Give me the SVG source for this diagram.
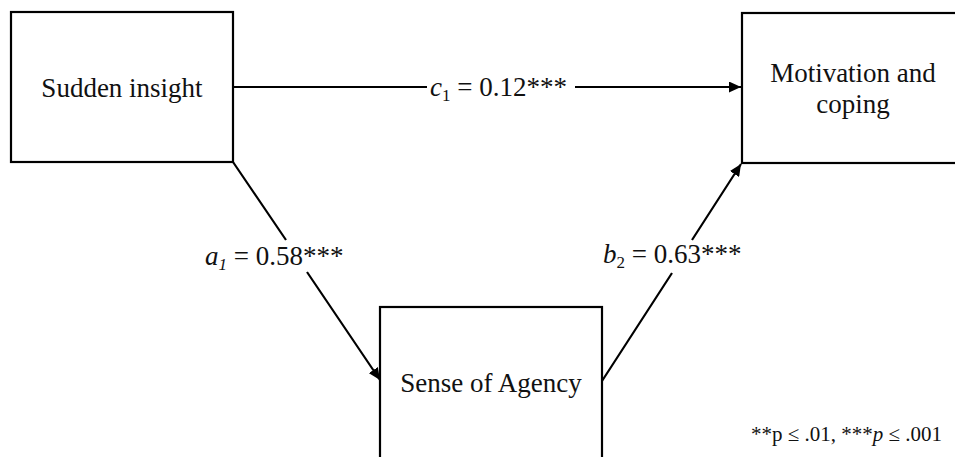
<svg xmlns="http://www.w3.org/2000/svg" width="955" height="457" viewBox="0 0 955 457">
<style>
.box{fill:#fff;stroke:#000;stroke-width:2.2}
.t{font-family:"Liberation Serif","Times New Roman",serif;font-size:27px;fill:#111}
.lbl{font-family:"Liberation Serif","Times New Roman",serif;font-size:27px;fill:#111}
.c{fill:none;stroke:#000;stroke-width:2.2}
.i{font-style:italic}
</style>
<defs>
<marker id="ah" viewBox="0 0 12 11" refX="12" refY="5.5" markerWidth="12" markerHeight="11" markerUnits="userSpaceOnUse" orient="auto">
<path d="M0,0 L12,5.5 L0,11 z" fill="#000"/>
</marker>
</defs>
<rect width="955" height="457" fill="#fff"/>
<g id="connectors">
<path class="c" d="M233,87 L427,87 M575,87 L741,87" marker-end="url(#ah)"/>
<path class="c" d="M233,162 L286,240 M307,272 L380,380" marker-end="url(#ah)"/>
<path class="c" d="M602,381 L672,273 M692,240 L741,164" marker-end="url(#ah)"/>
</g>
<g id="node-sudden">
<rect class="box" x="11" y="12" width="222" height="150"/>
<text class="t" x="122" y="97" text-anchor="middle">Sudden insight</text>
</g>
<g id="node-motivation">
<rect class="box" x="742" y="13" width="222" height="150"/>
<text class="t" x="853" y="82" text-anchor="middle">Motivation and</text>
<text class="t" x="853" y="113" text-anchor="middle">coping</text>
</g>
<g id="node-agency">
<rect class="box" x="380" y="307" width="222" height="160"/>
<text class="t" x="491" y="392" text-anchor="middle">Sense of Agency</text>
</g>
<g id="labels">
<text class="lbl" x="430" y="96"><tspan class="i">c</tspan><tspan font-size="17" dy="5">1</tspan><tspan dy="-5"> = 0.12***</tspan></text>
<text class="lbl" x="205" y="265"><tspan class="i">a</tspan><tspan class="i" font-size="17" dy="5">1</tspan><tspan dy="-5"> = 0.58***</tspan></text>
<text class="lbl" x="603" y="263"><tspan class="i">b</tspan><tspan font-size="17" dy="5">2</tspan><tspan dy="-5"> = 0.63***</tspan></text>
<text class="lbl" x="942" y="441" text-anchor="end" style="font-size:21px">**p ≤ .01, ***<tspan class="i">p</tspan> ≤ .001</text>
</g>
</svg>
